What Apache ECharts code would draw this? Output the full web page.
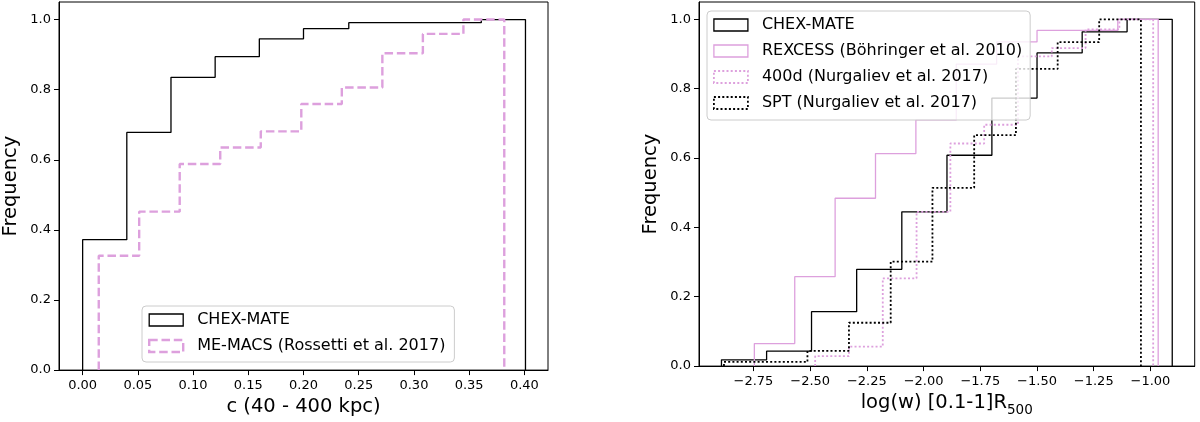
<!DOCTYPE html>
<html>
<head>
<meta charset="utf-8">
<script src="https://cdn.jsdelivr.net/npm/echarts@6/dist/echarts.min.js"></script>
<style>
    html, body { margin: 0; padding: 0; background: #fff; }
    #chart { width: 1200px; height: 422px; }
</style>
</head>
<body>
<div id="chart"></div>
<script>
// ---- left panel: c (40 - 400 kpc) ----
var cTicks = [0, 0.05, 0.10, 0.15, 0.20, 0.25, 0.30, 0.35, 0.40];
var chexCEdges = [0.000, 0.040, 0.080, 0.120, 0.160, 0.200, 0.241, 0.281, 0.321, 0.361, 0.401];
var chexCCum = [0.372, 0.678, 0.835, 0.894, 0.945, 0.974, 0.991, 0.991, 0.991, 1.000];
var memacsEdges = [0.0146, 0.0512, 0.0879, 0.1246, 0.1613, 0.1980, 0.2347, 0.2714, 0.3081, 0.3448, 0.3818];
var memacsCum = [0.326, 0.452, 0.588, 0.635, 0.681, 0.759, 0.806, 0.904, 0.959, 1.000];

// ---- right panel: log(w) [0.1-1]R500 ----
var wTicks = [-2.75, -2.50, -2.25, -2.00, -1.75, -1.50, -1.25, -1.00];
var chexWEdges = [-2.891, -2.692, -2.494, -2.295, -2.096, -1.897, -1.699, -1.500, -1.301, -1.103, -0.904];
var chexWCum = [0.018, 0.043, 0.157, 0.279, 0.445, 0.608, 0.773, 0.903, 0.964, 1.000];
var rexEdges = [-2.746, -2.568, -2.390, -2.212, -2.034, -1.856, -1.678, -1.500, -1.322, -1.144, -0.966];
var rexCum = [0.065, 0.258, 0.484, 0.613, 0.710, 0.871, 0.935, 0.968, 0.968, 1.000];
var d400Edges = [-2.478, -2.329, -2.180, -2.031, -1.882, -1.733, -1.584, -1.435, -1.286, -1.137, -0.988];
var d400Cum = [0.029, 0.056, 0.253, 0.445, 0.642, 0.696, 0.893, 0.917, 0.971, 1.000];
var sptEdges = [-2.880, -2.696, -2.512, -2.329, -2.145, -1.961, -1.777, -1.593, -1.409, -1.226, -1.042];
var sptCum = [0.012, 0.012, 0.044, 0.125, 0.301, 0.514, 0.666, 0.857, 0.934, 1.000];

var freqTicks = [0, 0.2, 0.4, 0.6, 0.8, 1.0];

var plum = '#dda0dd';
var ink = '#000';
var font = 'DejaVu Sans';

// outline of a cumulative step histogram
function stepLine(edges, cum) {
    var pts = [[edges[0], 0]];
    for (var i = 0; i < cum.length; i++) {
        pts.push([edges[i], cum[i]]);
        pts.push([edges[i + 1], cum[i]]);
    }
    pts.push([edges[edges.length - 1], 0]);
    return pts;
}

function minus(s) {
    return s.replace('-', '\u2212');
}

var styles = {
    chexSolid: { color: ink, width: 1.3, type: 'solid' },
    memacs: { color: plum, width: 2.4, type: [8.5, 3.8] },
    rex: { color: plum, width: 1.3, type: 'solid' },
    d400: { color: plum, width: 1.8, type: [2, 2.2] },
    spt: { color: ink, width: 1.8, type: [2, 2.2] }
};

function legendItem(name, st) {
    return {
        name: name,
        icon: 'rect',
        itemStyle: {
            color: 'rgba(0,0,0,0)',
            borderColor: st.color,
            borderWidth: st.width,
            borderType: st.type
        }
    };
}

function series(name, edges, cum, st, idx) {
    return {
        name: name,
        type: 'line',
        xAxisIndex: idx,
        yAxisIndex: idx,
        data: stepLine(edges, cum),
        symbol: 'none',
        color: st.color,
        lineStyle: { color: st.color, width: st.width, type: st.type },
        emphasis: { disabled: true }
    };
}

function xAxis(idx, min, max, ticks, digits, name) {
    return {
        type: 'value',
        gridIndex: idx,
        min: min,
        max: max,
        splitLine: { show: false },
        axisLine: { show: true, onZero: false, lineStyle: { color: ink, width: 1 } },
        axisTick: { customValues: ticks, length: 5, lineStyle: { color: ink } },
        axisLabel: {
            customValues: ticks,
            margin: 9,
            color: ink,
            fontFamily: font,
            fontSize: 13,
            formatter: function (v) { return minus(v.toFixed(digits)); }
        },
        name: name,
        nameLocation: 'middle',
        nameGap: 26,
        nameTextStyle: {
            color: ink,
            fontFamily: font,
            rich: {
                a: { fontFamily: font, fontSize: 19.5, lineHeight: 20, verticalAlign: 'top', color: ink },
                s: { fontFamily: font, fontSize: 13.5, lineHeight: 14, verticalAlign: 'bottom', color: ink },
                sp: { fontSize: 1, lineHeight: 24 }
            }
        }
    };
}

function yAxis(idx) {
    return {
        type: 'value',
        gridIndex: idx,
        min: 0,
        max: 1.05,
        splitLine: { show: false },
        axisLine: { show: true, onZero: false, lineStyle: { color: ink, width: 1 } },
        axisTick: { customValues: freqTicks, length: 5, lineStyle: { color: ink } },
        axisLabel: {
            customValues: freqTicks,
            margin: 8,
            color: ink,
            fontFamily: font,
            fontSize: 13,
            formatter: function (v) { return v.toFixed(1); }
        },
        name: 'Frequency',
        nameLocation: 'middle',
        nameGap: 38,
        nameTextStyle: { color: ink, fontFamily: font, fontSize: 19.5 }
    };
}

var legendBase = {
    orient: 'vertical',
    selectedMode: false,
    itemWidth: 34,
    itemHeight: 12,
    itemGap: 10,
    backgroundColor: 'rgba(255,255,255,0.8)',
    borderColor: '#cccccc',
    borderWidth: 1,
    borderRadius: 4,
    textStyle: { color: ink, fontFamily: font, fontSize: 16, lineHeight: 16, padding: [0, 0, 0, 9] }
};

var dom = document.getElementById('chart');
var myChart = echarts.init(dom, null, { renderer: 'canvas' });

var option = {
    animation: false,
    backgroundColor: '#fff',
    grid: [
        { left: 52, width: 496, top: 2, bottom: 50.7, show: true, borderColor: ink, borderWidth: 1 },
        { left: 699, width: 495.7, top: 2, bottom: 50.7, show: true, borderColor: ink, borderWidth: 1 }
    ],
    xAxis: [
        xAxis(0, -0.0214, 0.4214, cTicks, 2, '{a|c (40 - 400 kpc)}'),
        xAxis(1, -2.990, -0.805, wTicks, 2, '{a|log(w) [0.1-1]R}{s|500}{sp| }')
    ],
    yAxis: [yAxis(0), yAxis(1)],
    legend: [
        Object.assign({}, legendBase, {
            left: 142, top: 306,
            padding: [6, 9, 8, 6],
            data: [
                legendItem('CHEX-MATE', styles.chexSolid),
                legendItem('ME-MACS (Rossetti et al. 2017)', styles.memacs)
            ]
        }),
        Object.assign({}, legendBase, {
            left: 707, top: 11,
            padding: [6, 8, 9, 6],
            data: [
                legendItem('CHEX-MATE', styles.chexSolid),
                legendItem('REXCESS (Böhringer et al. 2010)', styles.rex),
                legendItem('400d (Nurgaliev et al. 2017)', styles.d400),
                legendItem('SPT (Nurgaliev et al. 2017)', styles.spt)
            ]
        })
    ],
    series: [
        series('CHEX-MATE', chexCEdges, chexCCum, styles.chexSolid, 0),
        series('ME-MACS (Rossetti et al. 2017)', memacsEdges, memacsCum, styles.memacs, 0),
        series('CHEX-MATE', chexWEdges, chexWCum, styles.chexSolid, 1),
        series('REXCESS (Böhringer et al. 2010)', rexEdges, rexCum, styles.rex, 1),
        series('400d (Nurgaliev et al. 2017)', d400Edges, d400Cum, styles.d400, 1),
        series('SPT (Nurgaliev et al. 2017)', sptEdges, sptCum, styles.spt, 1)
    ]
};

if (option && typeof option === 'object') {
    myChart.setOption(option, true);
}
</script>
</body>
</html>
